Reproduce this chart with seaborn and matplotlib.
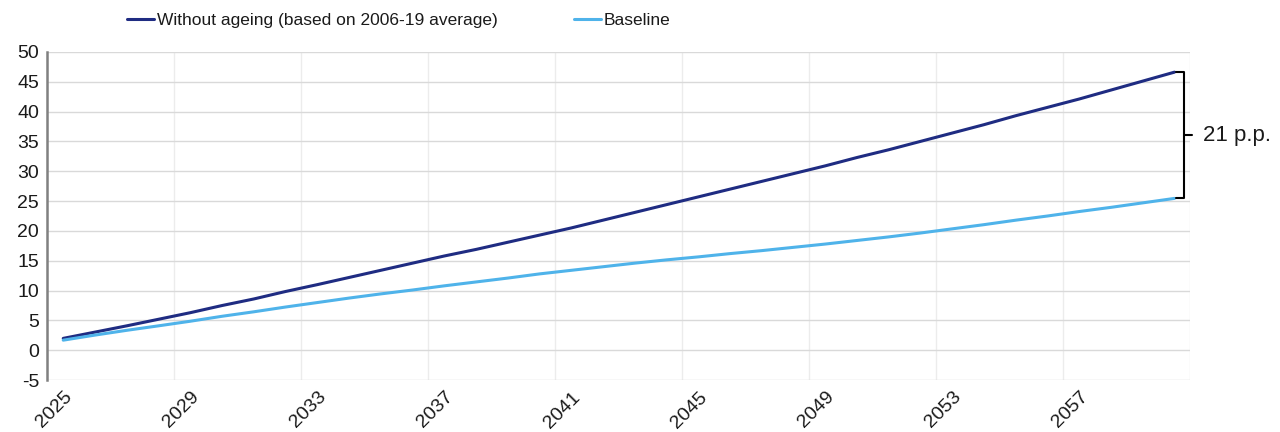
import matplotlib
matplotlib.use("Agg")
import matplotlib.pyplot as plt
import pandas as pd
import numpy as np
import seaborn as sns

years = list(range(2025, 2061))
without_ageing = [2.0, 3.05, 4.1, 5.2, 6.3, 7.5, 8.6, 9.85, 11.0, 12.2,
                  13.4, 14.6, 15.8, 16.9, 18.1, 19.3, 20.5, 21.8, 23.1, 24.4,
                  25.7, 27.0, 28.3, 29.6, 30.9, 32.3, 33.6, 35.0, 36.4, 37.8,
                  39.3, 40.7, 42.1, 43.6, 45.1, 46.6]
baseline = [1.7, 2.55, 3.35, 4.1, 4.87, 5.7, 6.45, 7.25, 8.0, 8.75,
            9.45, 10.1, 10.8, 11.45, 12.1, 12.8, 13.4, 14.0, 14.6, 15.15,
            15.65, 16.2, 16.7, 17.25, 17.8, 18.4, 19.0, 19.65, 20.35, 21.05,
            21.8, 22.5, 23.25, 23.95, 24.7, 25.45]
series_names = ["Without ageing (based on 2006-19 average)", "Baseline"]
colors = ["#1f2c82", "#4fb3ea"]
y_ticks = list(range(-5, 55, 5))
x_tick_years = list(range(2025, 2061, 4))

df = pd.DataFrame({
    "year": years * 2,
    "value": without_ageing + baseline,
    "series": [series_names[0]] * len(years) + [series_names[1]] * len(years),
})

sns.set_style("white")
plt.rcParams["font.family"] = ["Liberation Sans", "DejaVu Sans"]

fig = plt.figure(figsize=(12.8, 4.32), dpi=100)
ax = fig.add_axes([0.037, 0.12, 0.893, 0.76])

sns.lineplot(data=df, x="year", y="value", hue="series", palette=colors,
             linewidth=2.2, ax=ax, legend=True)

ax.set_xlim(years[0] - 0.5, years[-1] + 0.5)
ax.set_ylim(-5, 50)
ax.set_yticks(y_ticks)
ax.set_yticklabels([str(v) for v in y_ticks], fontsize=14, color="#1a1a1a")
ax.set_xticks(x_tick_years)
ax.set_xticklabels([str(v) for v in x_tick_years], fontsize=14, rotation=45,
                   ha="right", rotation_mode="anchor", color="#1a1a1a")
ax.set_xticks([y + 0.5 for y in range(2028, 2061, 4)], minor=True)
ax.tick_params(axis="both", which="both", length=0, pad=6)
ax.set_xlabel("")
ax.set_ylabel("")

ax.grid(axis="y", color="#d9d9d9", linewidth=1.0)
ax.grid(axis="x", which="minor", color="#ececec", linewidth=1.0)
ax.grid(axis="x", which="major", visible=False)
ax.set_axisbelow(True)
for s in ["top", "right", "bottom"]:
    ax.spines[s].set_visible(False)
ax.spines["left"].set_color("#808080")
ax.spines["left"].set_linewidth(1.8)

# bracket showing the gap at the end
top, bot = without_ageing[-1], baseline[-1]
xe = years[-1]
bx = xe + 0.3
ax.plot([xe + 0.05, bx, bx, xe + 0.05], [top, top, bot, bot], color="black",
        linewidth=1.5, clip_on=False, solid_joinstyle="round")
mid = (top + bot) / 2
ax.plot([bx, bx + 0.25], [mid, mid], color="black", linewidth=1.5, clip_on=False)
ax.text(bx + 0.6, mid, f"{round(top - bot)} p.p.", fontsize=16, va="center",
        ha="left", color="#1a1a1a")

handles, labels = ax.get_legend_handles_labels()
ax.legend(handles, labels, loc="upper left", bbox_to_anchor=(0.056, 1.165), ncol=2,
          frameon=False, fontsize=12.5, handlelength=1.55, handletextpad=0.15,
          columnspacing=4.4, labelcolor="#1a1a1a")

fig.savefig("out.png", dpi=100)
